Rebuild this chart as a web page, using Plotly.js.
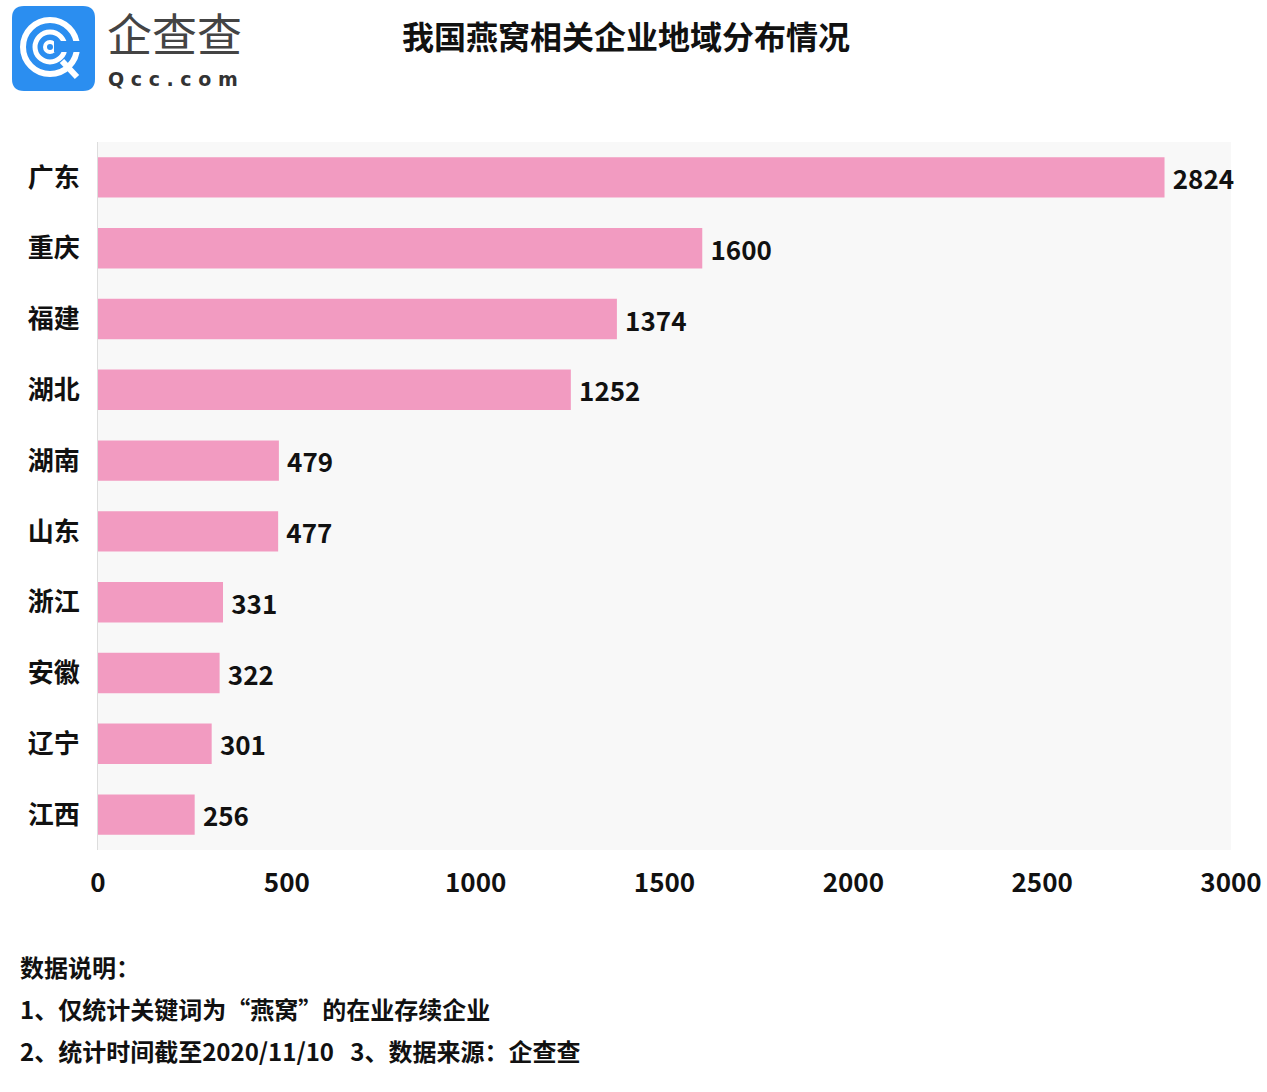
<!DOCTYPE html>
<html><head><meta charset="utf-8">
<script src="https://cdn.plot.ly/plotly-3.0.1.min.js"></script>
<style>body{margin:0;background:#fff}#chart{width:1267px;height:1092px}</style>
</head><body><div id="chart"></div>
<script>
const provinces = ["广东","重庆","福建","湖北","湖南","山东","浙江","安徽","辽宁","江西"];
const counts = [2824,1600,1374,1252,479,477,331,322,301,256];
const xTicks = [0,500,1000,1500,2000,2500,3000];
const titleText = "我国燕窝相关企业地域分布情况";
const notes = ["数据说明：","1、仅统计关键词为“燕窝”的在业存续企业","2、统计时间截至2020/11/10   3、数据来源：企查查"];

const W=1267,H=1092,L=98,R=1231,T=142,B=850;
const px = x => (x-L)/(R-L);
const py = y => (B-y)/(B-T);
const FONT = '"Noto Sans CJK SC", "Noto Sans", sans-serif';

const shapes = [];
const lx0=12,lx1=95,ly0=6,ly1=91,rr=12;
const path = `M ${px(lx0+rr)},${py(ly0)} L ${px(lx1-rr)},${py(ly0)} Q ${px(lx1)},${py(ly0)} ${px(lx1)},${py(ly0+rr)} L ${px(lx1)},${py(ly1-rr)} Q ${px(lx1)},${py(ly1)} ${px(lx1-rr)},${py(ly1)} L ${px(lx0+rr)},${py(ly1)} Q ${px(lx0)},${py(ly1)} ${px(lx0)},${py(ly1-rr)} L ${px(lx0)},${py(ly0+rr)} Q ${px(lx0)},${py(ly0)} ${px(lx0+rr)},${py(ly0)} Z`;
shapes.push({type:'path',xref:'paper',yref:'paper',path:path,fillcolor:'#2b8ef0',line:{width:0}});
const cx=50,cy=47;
[[27,6],[15,5],[5,4]].forEach(([r,w])=>{
  shapes.push({type:'circle',xref:'paper',yref:'paper',x0:px(cx-r),x1:px(cx+r),y0:py(cy+r),y1:py(cy-r),line:{color:'#ffffff',width:w},fillcolor:'rgba(0,0,0,0)'});
});
shapes.push({type:'rect',xref:'paper',yref:'paper',x0:px(cx+4),x1:px(cx+34),y0:py(cy+5),y1:py(cy-6),fillcolor:'#2b8ef0',line:{width:0}});
shapes.push({type:'line',xref:'paper',yref:'paper',x0:px(cx+12),x1:px(cx+27),y0:py(cy+14),y1:py(cy+30),line:{color:'#ffffff',width:6}});

const annotations = [
  {text:'企查查',xref:'paper',yref:'paper',x:px(105),y:py(33),xanchor:'left',yanchor:'middle',showarrow:false,font:{family:FONT,size:45,color:'#444'}},
  {text:'<b>Q c c . c o m</b>',xref:'paper',yref:'paper',x:px(106),y:py(79),xanchor:'left',yanchor:'middle',showarrow:false,font:{family:'"DejaVu Sans", sans-serif',size:19,color:'#333'}},
  {text:'<b>'+titleText+'</b>',xref:'paper',yref:'paper',x:px(626),y:py(35),xanchor:'center',yanchor:'middle',showarrow:false,font:{family:FONT,size:32,color:'#111'}}
];
notes.forEach((t,i)=>{
  annotations.push({text:'<b>'+t+'</b>',xref:'paper',yref:'paper',x:px(18),y:py(966+42*i),xanchor:'left',yanchor:'middle',showarrow:false,font:{family:FONT,size:24,color:'#111'}});
});

const data = [{
  type:'bar',orientation:'h',
  y:provinces,x:counts,
  marker:{color:'#f29bc1',line:{width:0}},
  width:0.57,
  text:counts.map(v=>'<b>\u2009'+v+'</b>'),
  textposition:'outside',
  textfont:{family:FONT,size:26,color:'#111'},
  cliponaxis:false,
  hoverinfo:'none'
}];

const layout = {
  width:W,height:H,
  margin:{l:L,r:W-R,t:T,b:H-B,pad:0},
  paper_bgcolor:'#ffffff',plot_bgcolor:'#f8f8f8',
  showlegend:false,
  font:{family:FONT},
  xaxis:{range:[0,3000],tickvals:xTicks,ticktext:xTicks.map(v=>'<b>'+v+'</b>'),showgrid:false,zeroline:false,showline:false,
    ticks:'outside',ticklen:10,tickcolor:'rgba(0,0,0,0)',tickfont:{family:FONT,size:26,color:'#111'}},
  yaxis:{autorange:'reversed',categoryorder:'array',categoryarray:provinces,showgrid:false,zeroline:false,
    showline:true,linecolor:'#dddddd',linewidth:1,
    tickvals:provinces,ticktext:provinces.map(v=>'<b>'+v+'</b>'),
    ticks:'outside',ticklen:12,tickcolor:'rgba(0,0,0,0)',tickfont:{family:FONT,size:26,color:'#111'}},
  shapes:shapes,
  annotations:annotations
};
Plotly.newPlot('chart',data,layout,{displayModeBar:false,staticPlot:true});
</script></body></html>
